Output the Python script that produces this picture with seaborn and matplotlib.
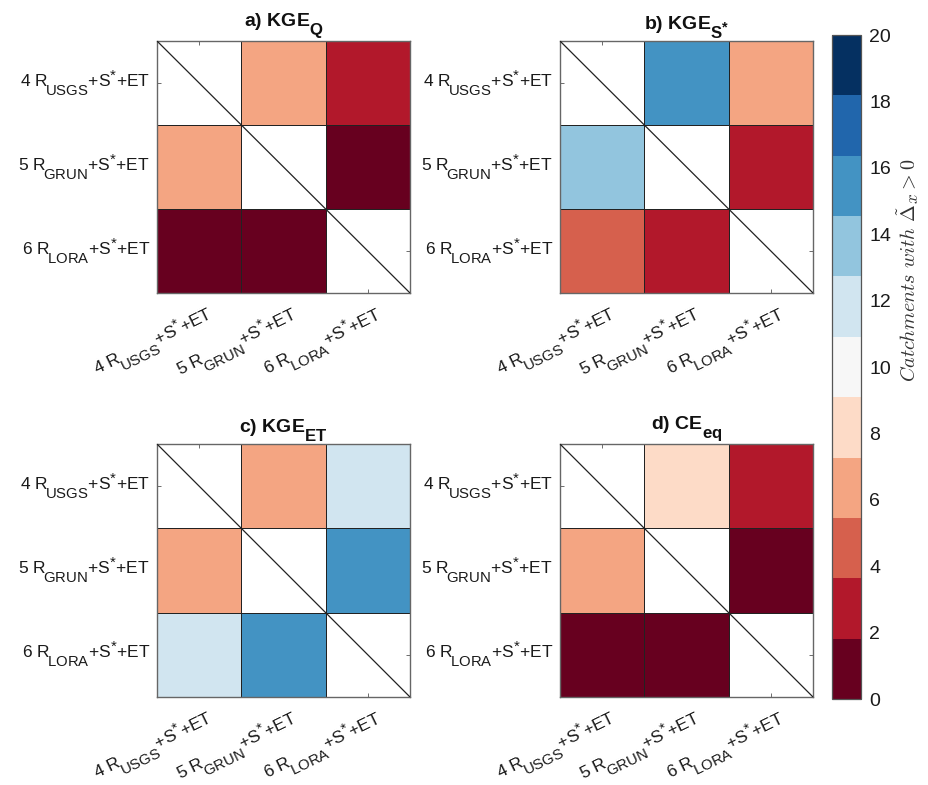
import numpy as np
import matplotlib
matplotlib.use("Agg")
import matplotlib.pyplot as plt
import matplotlib.transforms as mtransforms
import matplotlib._mathtext as mathtext_engine
from matplotlib.colors import ListedColormap, Normalize
from matplotlib.cm import ScalarMappable
import seaborn as sns

# Model configurations compared pairwise
models = [r"$\mathrm{4\ R_{\!USGS}{+}S^{*}{+}ET}$",
          r"$\mathrm{5\ R_{\!GRUN}{+}S^{*}{+}ET}$",
          r"$\mathrm{6\ R_{\!LORA}{+}S^{*}{+}ET}$"]

titles = [r"$\mathbf{a)\ KGE_{Q}}$",
          r"$\mathbf{b)\ KGE_{S^{*}}}$",
          r"$\mathbf{c)\ KGE_{ET}}$",
          r"$\mathbf{d)\ CE_{eq}}$"]

# Number of catchments where the row model beats the column model
kge_q = [[np.nan, 6, 3],
         [6, np.nan, 1],
         [1, 1, np.nan]]
kge_s = [[np.nan, 15, 6],
         [13, np.nan, 3],
         [5, 3, np.nan]]
kge_et = [[np.nan, 6, 12],
          [6, np.nan, 16],
          [12, 16, np.nan]]
ce_eq = [[np.nan, 8, 3],
         [6, np.nan, 1],
         [1, 1, np.nan]]

cbar_ticks = list(range(0, 21, 2))

palette = ['#67001f', '#b2182b', '#d6604d', '#f4a582', '#fddbc7', '#f7f7f7',
           '#d1e5f0', '#92c5de', '#4393c3', '#2166ac', '#053061']

sns.set_theme(style="white")
plt.rcParams['font.family'] = ['Liberation Sans', 'DejaVu Sans']
plt.rcParams['mathtext.fontset'] = 'custom'
plt.rcParams['mathtext.rm'] = 'Liberation Sans'
plt.rcParams['mathtext.it'] = 'Liberation Sans:italic'
plt.rcParams['mathtext.bf'] = 'Liberation Sans:bold'

# larger, lower-set subscripts in the sans labels
mathtext_engine.SHRINK_FACTOR = 0.86
mathtext_engine.FontConstantsBase.sub1 = 0.95
mathtext_engine.FontConstantsBase.sub2 = 0.8

cmap = ListedColormap(palette)
norm = Normalize(vmin=0, vmax=20)

W, H = 929, 785
fig = plt.figure(figsize=(W / 100, H / 100), dpi=100)

# axes boxes in pixels: (left, top, right, bottom)
boxes = [(157, 41, 410, 293), (560, 41, 813, 293),
         (157, 444, 410, 697), (560, 444, 813, 697)]

datasets = [kge_q, kge_s, kge_et, ce_eq]
n = len(models)

for (l, t, r, b), data, title in zip(boxes, datasets, titles):
    ax = fig.add_axes([l / W, 1 - b / H, (r - l) / W, (b - t) / H])
    arr = np.array(data, dtype=float)
    sns.heatmap(arr, ax=ax, cmap=cmap, vmin=0, vmax=20, cbar=False,
                mask=np.isnan(arr), linewidths=0.6, linecolor='#222222',
                square=False)
    ax.set_facecolor('white')
    ax.plot([0, n], [0, n], color='#222222', lw=0.9, zorder=3)
    for s in ax.spines.values():
        s.set_visible(True)
        s.set_color('#666666')
        s.set_linewidth(1.0)
    ax.set_axisbelow(True)
    ax.set_xticks(np.arange(n) + 0.5)
    ax.set_yticks(np.arange(n) + 0.5)
    ax.set_yticklabels(models, rotation=0, fontsize=12.5)
    ax.set_xticklabels([])
    # slanted column labels, right end just past each column centre
    base = mtransforms.blended_transform_factory(ax.transData, ax.transAxes)
    shift = mtransforms.ScaledTranslation(7 / 100, -9 / 100, fig.dpi_scale_trans)
    for i, lab in enumerate(models):
        ax.text(i + 0.5, 0, lab, transform=base + shift, rotation=26,
                ha='right', va='top', rotation_mode='anchor',
                fontsize=12.5, color='#1a1a1a')
    ax.tick_params(axis='both', which='both', direction='in', length=3,
                   width=0.6, color='#555555', top=True, right=True,
                   bottom=True, left=True, labelcolor='#1a1a1a')
    ax.tick_params(axis='y', pad=5)
    ax.set_title(title, fontsize=14, pad=8, color='#111111')

# shared colour scale
cax = fig.add_axes([832 / W, 1 - 699 / H, 29 / W, (699 - 35) / H])
cb = fig.colorbar(ScalarMappable(norm=norm, cmap=cmap), cax=cax, ticks=cbar_ticks)
cb.outline.set_edgecolor('#555555')
cb.outline.set_linewidth(0.9)
cax.tick_params(direction='in', length=4, width=0.6, color='#333333',
                labelsize=14, pad=6, labelcolor='#1a1a1a')
fig.text(908 / W, 1 - 270 / H, r"$Catchments\ with\ \tilde{\Delta}_x > 0$",
         rotation=90, ha='center', va='center', fontsize=14.5,
         math_fontfamily='cm', color='#333333')

fig.savefig("out.png", dpi=100, facecolor='white')
